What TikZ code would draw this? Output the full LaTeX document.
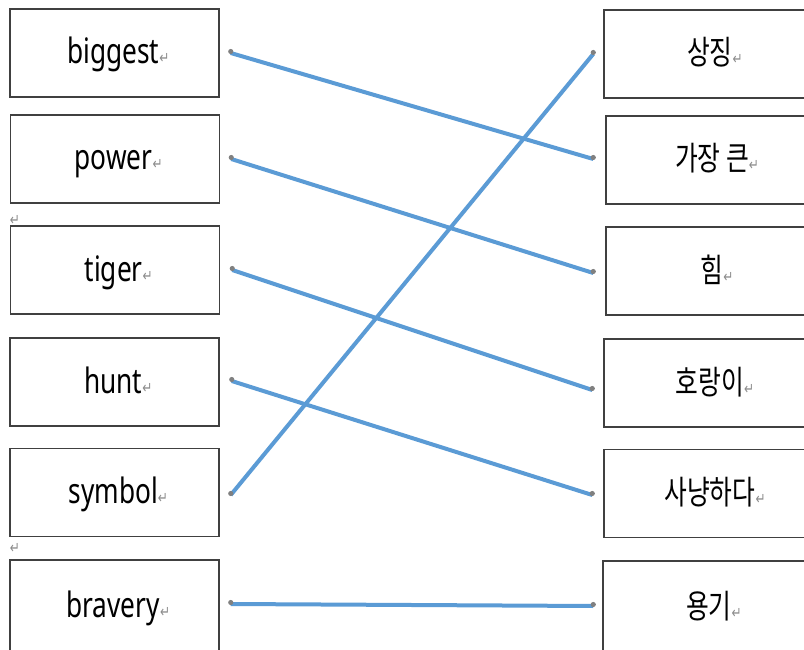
\documentclass[tikz,border=0pt]{standalone}
\usepackage{fontspec}
\usepackage{graphicx}
\usepackage{xcolor}
\usepackage{tikz}
\setmainfont{Noto Sans}
\newfontfamily\kofont{Noto Sans CJK KR}
\newfontfamily\symfont{DejaVu Sans}
\definecolor{linkblue}{HTML}{5B9BD5}
\definecolor{markgray}{HTML}{8C8C8C}
\newcommand{\retmark}{{\symfont\fontsize{16}{16}\selectfont\color{markgray}↵}}
\newcommand{\lbl}[1]{\scalebox{0.75}[1]{#1\retmark}}
\newcommand{\llbl}[1]{\lbl{\hspace*{10pt}#1}}

\begin{document}
\begin{tikzpicture}[x=1pt, y=-1pt,
  box/.style={draw=black!75, line width=1.5pt, minimum width=209pt,
              minimum height=88pt, inner sep=0pt, text height=28pt, text depth=6pt,
              font=\fontsize{35}{40}\selectfont},
  kbox/.style={box, minimum width=222pt, font=\kofont\fontsize{33}{40}\selectfont},
  link/.style={draw=linkblue, line width=4pt},
  pin/.style={fill=black!50}]
\useasboundingbox (0,0) rectangle (804,650);
\clip (0,0) rectangle (804,650);
% left column
\node[box] (big) at (114.5,53) {\llbl{biggest}};
\node[box] (pow) at (115,159) {\llbl{power}};
\node[box] (tig) at (115,270) {\llbl{tiger}};
\node[box] (hun) at (114.5,382) {\llbl{hunt}};
\node[box] (sym) at (114.5,492.5) {\llbl{symbol}};
\node[box, minimum height=92pt] (brv) at (114.5,606) {\llbl{bravery}};
% stray paragraph marks
\node[inner sep=0pt] (mk1) at (15,220) {\scalebox{0.75}[1]{\retmark}};
\node[inner sep=0pt] (mk2) at (15,548) {\scalebox{0.75}[1]{\retmark}};
% right column
\node[kbox] (sj) at (715,54) {\lbl{상징}};
\node[kbox] (gk) at (717,160) {\lbl{가장 큰}};
\node[kbox] (hm) at (717,271) {\lbl{힘}};
\node[kbox] (hr) at (715,383) {\lbl{호랑이}};
\node[kbox] (sn) at (715,493.5) {\lbl{사냥하다}};
\node[kbox, minimum height=92pt] (yg) at (714,607) {\lbl{용기}};
% link ends
\coordinate (bigR) at ([xshift=11pt]big.east);
\coordinate (powR) at ([xshift=11pt]pow.east);
\coordinate (tigR) at ([xshift=12pt]tig.east);
\coordinate (hunR) at ([xshift=12pt, yshift=1pt]hun.east);
\coordinate (symR) at ([xshift=11pt, yshift=-2.5pt]sym.east);
\coordinate (brvR) at ([xshift=11pt, yshift=2pt]brv.east);
\coordinate (sjL) at ([xshift=-10pt]sj.west);
\coordinate (gkL) at ([xshift=-12pt, yshift=1pt]gk.west);
\coordinate (hmL) at ([xshift=-12pt, yshift=-2pt]hm.west);
\coordinate (hrL) at ([xshift=-11pt, yshift=-7pt]hr.west);
\coordinate (snL) at ([xshift=-11pt, yshift=-1.5pt]sn.west);
\coordinate (ygL) at ([xshift=-9pt, yshift=1pt]yg.west);
\draw[link] (bigR) -- (gkL);
\draw[link] (powR) -- (hmL);
\draw[link] (tigR) -- (hrL);
\draw[link] (hunR) -- (snL);
\draw[link] (symR) -- (sjL);
\draw[link] (brvR) -- (ygL);
\foreach \p in {bigR,powR,tigR,hunR,symR,brvR,sjL,gkL,hmL,hrL,snL,ygL}
  \fill[pin] ([yshift=1.5pt]\p) circle (2.6pt);
\end{tikzpicture}
\end{document}
